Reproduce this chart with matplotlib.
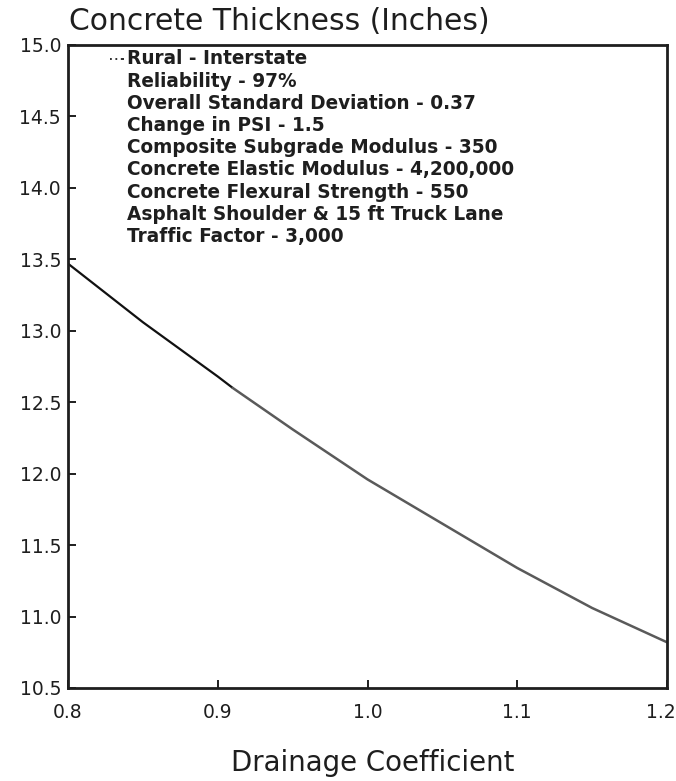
import matplotlib
matplotlib.use("Agg")
import matplotlib.pyplot as plt
from matplotlib.transforms import ScaledTranslation
import numpy as np

# Data
drainage = [0.80, 0.85, 0.90, 0.91, 0.95, 1.00, 1.05, 1.10, 1.15, 1.20]
thickness = [13.47, 13.06, 12.68, 12.60, 12.31, 11.96, 11.65, 11.34, 11.06, 10.82]

xticks = [0.8, 0.9, 1.0, 1.1, 1.2]
xticklabels = ["0.8", "0.9", "1.0", "1.1", "1.2"]
yticks = [10.5, 11.0, 11.5, 12.0, 12.5, 13.0, 13.5, 14.0, 14.5, 15.0]
yticklabels = ["10.5", "11.0", "11.5", "12.0", "12.5", "13.0", "13.5", "14.0", "14.5", "15.0"]

title = "Concrete Thickness (Inches)"
xlabel = "Drainage Coefficient"
notes = [
    "Rural - Interstate",
    "Reliability - 97%",
    "Overall Standard Deviation - 0.37",
    "Change in PSI - 1.5",
    "Composite Subgrade Modulus - 350",
    "Concrete Elastic Modulus - 4,200,000",
    "Concrete Flexural Strength - 550",
    "Asphalt Shoulder & 15 ft Truck Lane",
    "Traffic Factor - 3,000",
]

W, H = 676, 781
fig = plt.figure(figsize=(W / 100, H / 100), dpi=100)
L, R, T, B = 68, 667, 45, 688
ax = fig.add_axes([L / W, 1 - B / H, (R - L) / W, (B - T) / H])

fam = ["DejaVu Sans"]
ink = "#1e1e1e"

x = np.array(drainage)
y = np.array(thickness)
split = 0.91
m1 = x <= split
m2 = x >= split
ax.plot(x[m1], y[m1], color="#111111", lw=1.6, solid_capstyle="round")
ax.plot(x[m2], y[m2], color="#5a5a5a", lw=1.8, solid_capstyle="round")

ax.set_xlim(0.8, 1.2)
ax.set_ylim(10.5, 15.0)
ax.set_xticks(xticks)
ax.set_xticklabels(xticklabels, family=fam, fontsize=13.5, color=ink)
ax.set_yticks(yticks)
ax.set_yticklabels(yticklabels, family=fam, fontsize=13.5, color=ink)
ax.tick_params(direction="in", length=6, width=1.4, color=ink)
ax.tick_params(axis="y", pad=5)
ax.tick_params(axis="x", pad=11)
for s in ax.spines.values():
    s.set_linewidth(2.0)
    s.set_color(ink)
# keep the last x label inside the picture
lab = ax.get_xticklabels()[-1]
lab.set_transform(lab.get_transform() + ScaledTranslation(-6 / 100, 0, fig.dpi_scale_trans))

t_title = fig.text(69 / W, 1 - 22 / H, title, family=fam, fontsize=18,
                   color=ink, ha="left", va="center")
t_xlab = fig.text(373 / W, 1 - 763 / H, xlabel, family=fam, fontsize=18,
                  color=ink, ha="center", va="center")

y0 = 59
step = 22.2
note_texts = []
for i, t in enumerate(notes):
    note_texts.append(fig.text(127 / W, 1 - (y0 + i * step) / H, t, family=fam,
                               fontsize=12.5, fontweight="bold", color=ink,
                               ha="left", va="center"))
# sample line before first note
ax.plot([(110 - L) / (R - L), (124 - L) / (R - L)],
        [1 - (y0 - T) / (B - T)] * 2, transform=ax.transAxes, color=ink,
        lw=1.3, ls=(0, (1, 2, 1, 2, 6, 100)))

# fit text widths to the reference
fig.canvas.draw()
rend = fig.canvas.get_renderer()
def fit(txt, target):
    w = txt.get_window_extent(rend).width
    txt.set_fontsize(txt.get_fontsize() * target / w)
fit(t_title, 421)
fit(t_xlab, 284)
w = note_texts[5].get_window_extent(rend).width
for nt in note_texts:
    nt.set_fontsize(nt.get_fontsize() * 389 / w)

fig.savefig("out.png", dpi=100, facecolor="white")
